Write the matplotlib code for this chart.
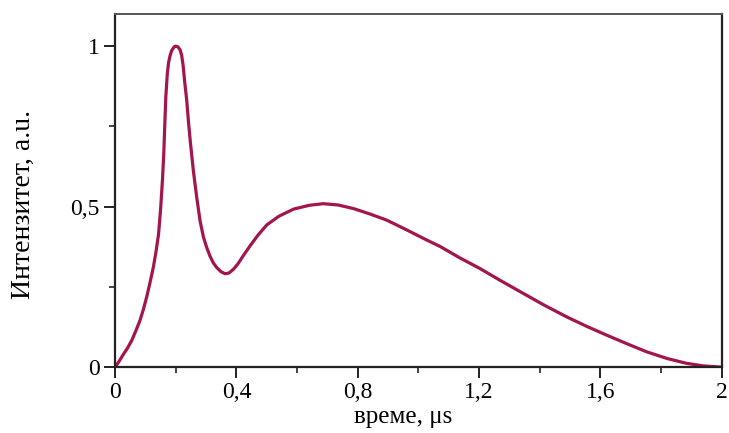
import numpy as np
import matplotlib.pyplot as plt
from matplotlib.ticker import MultipleLocator, FuncFormatter

# Intensity curve (time in microseconds)
time_us = [0.000, 0.014, 0.027, 0.041, 0.055, 0.068, 0.082, 0.093, 0.104, 0.115,
           0.126, 0.135, 0.143, 0.150, 0.156, 0.160, 0.163, 0.167, 0.172, 0.176,
           0.181, 0.186, 0.192, 0.197, 0.203, 0.208, 0.214, 0.219, 0.224, 0.229,
           0.236, 0.242, 0.248, 0.258, 0.269, 0.280, 0.291, 0.302, 0.313, 0.324,
           0.335, 0.348, 0.362, 0.375, 0.390, 0.405, 0.423, 0.445, 0.470, 0.500,
           0.540, 0.588, 0.640, 0.686, 0.735, 0.785, 0.840, 0.895, 0.960, 1.027,
           1.071, 1.137, 1.203, 1.270, 1.345, 1.415, 1.488, 1.555, 1.620, 1.690,
           1.752, 1.820, 1.884, 1.940, 2.000]
intensity = [0.000, 0.020, 0.040, 0.060, 0.084, 0.113, 0.146, 0.180, 0.219, 0.264,
             0.312, 0.362, 0.414, 0.495, 0.585, 0.660, 0.740, 0.842, 0.915, 0.948,
             0.970, 0.985, 0.994, 0.999, 0.999, 0.996, 0.988, 0.972, 0.940, 0.890,
             0.830, 0.760, 0.700, 0.610, 0.528, 0.455, 0.405, 0.372, 0.345, 0.324,
             0.310, 0.298, 0.291, 0.293, 0.305, 0.322, 0.348, 0.378, 0.410, 0.443,
             0.470, 0.492, 0.504, 0.509, 0.505, 0.494, 0.477, 0.458, 0.428, 0.396,
             0.376, 0.340, 0.307, 0.270, 0.230, 0.193, 0.157, 0.127, 0.100, 0.072,
             0.048, 0.027, 0.012, 0.004, 0.000]

x_ticks = [0, 0.4, 0.8, 1.2, 1.6, 2.0]
y_ticks = [0, 0.5, 1.0]

plt.rcParams['font.family'] = ['Liberation Serif', 'DejaVu Serif']

fig = plt.figure(figsize=(7.29, 4.33), dpi=100)
ax = fig.add_axes([0.158, 0.152, 0.832, 0.816])

ax.plot(time_us, intensity, color='#a3154e', linewidth=2.3, solid_capstyle='round',
        solid_joinstyle='round')

ax.set_xlim(0, 2)
ax.set_ylim(0, 1.10)


def comma_fmt(v, pos):
    s = f"{v:g}"
    return s.replace('.', ',')


ax.set_xticks(x_ticks)
ax.set_yticks(y_ticks)
ax.xaxis.set_minor_locator(MultipleLocator(0.2))
ax.yaxis.set_minor_locator(MultipleLocator(0.25))
ax.xaxis.set_major_formatter(FuncFormatter(comma_fmt))
ax.yaxis.set_major_formatter(FuncFormatter(comma_fmt))

ax.tick_params(axis='both', which='major', direction='out', length=8, width=1.4,
               labelsize=17, color='#222222', pad=3)
ax.tick_params(axis='both', which='minor', direction='out', length=4, width=1.2,
               color='#222222')

for side in ['left', 'bottom', 'right']:
    ax.spines[side].set_linewidth(1.6)
    ax.spines[side].set_color('#222222')
ax.spines['top'].set_linewidth(1.4)
ax.spines['top'].set_color('#555555')

ax.set_xlabel('време, μs', fontsize=18, labelpad=0)
ax.xaxis.set_label_coords(0.475, -0.11)
ax.set_ylabel('Интензитет, a.u.', fontsize=20)
ax.yaxis.set_label_coords(-0.13, 0.46)

fig.savefig('out.png', dpi=100)
